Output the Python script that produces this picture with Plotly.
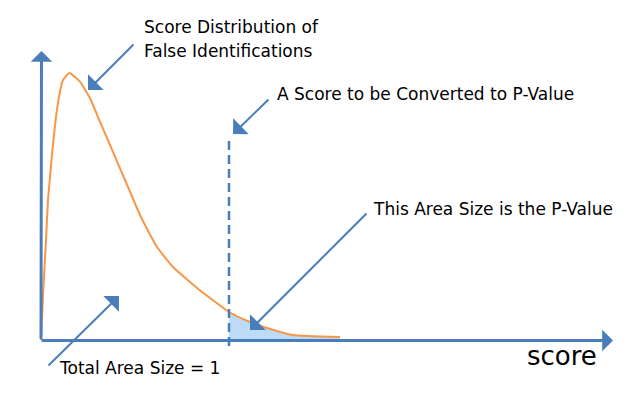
import plotly.graph_objects as go

# ---- data (score units, density units) ----
score = [0, 0.23, 0.5, 0.7, 0.9, 1.17, 1.5, 1.85, 2.2, 2.85, 3.9, 4.9, 5.9, 6.9,
         7.9, 8.9, 9.9, 10.4, 11.6, 13.2, 15.6, 18.8, 20.9, 22.6, 25.2, 29.9]
density = [0, 5.0, 10.0, 14.0, 16.3, 19.3, 22.3, 24.6, 26.0, 26.7, 25.83, 24.17, 21.83, 19.5,
           17.17, 14.83, 12.5, 11.5, 9.3, 7.3, 5.2, 2.8, 1.8, 1.2, 0.5, 0.3]
threshold_score = 18.8
labels = {
    "dist1": "Score Distribution of",
    "dist2": "False Identifications",
    "score_pt": "A Score to be Converted to P-Value",
    "pvalue": "This Area Size is the P-Value",
    "total": "Total Area Size = 1",
    "axis": "score",
}

W, H = 643, 408
X0, Y0, S = 41, 340, 10.0  # origin pixel and pixels per unit


def px(x):
    return (x - X0) / S


def py(y):
    return (Y0 - y) / S


BLUE = "#4A7EBB"
ORANGE = "#F79646"
FILL = "#BDDAF6"
FONT = "DejaVu Sans"

tail_x = [s for s in score if s >= threshold_score]
tail_y = [d for s, d in zip(score, density) if s >= threshold_score]

fig = go.Figure()
fig.add_trace(go.Scatter(x=tail_x, y=tail_y, fill="tozeroy", fillcolor=FILL,
                         mode="none", line=dict(shape="spline", smoothing=0.4),
                         hoverinfo="skip"))
fig.add_trace(go.Scatter(x=score, y=density, mode="lines",
                         line=dict(color=ORANGE, width=2, shape="spline", smoothing=0.4)))
fig.add_trace(go.Scatter(x=[threshold_score, threshold_score], y=[py(346), py(137)],
                         mode="lines", line=dict(color=BLUE, width=2.5, dash="9px,5px")))

ann = []
# axes arrows
ann.append(dict(x=px(41.5), y=py(51), ax=0, ay=py(340.5), xref="x", yref="y", axref="x", ayref="y",
                showarrow=True, arrowhead=1, arrowsize=1.2, arrowwidth=3, arrowcolor=BLUE, text=""))
ann.append(dict(x=px(613), y=py(340.5), ax=px(40), ay=py(340.5), xref="x", yref="y", axref="x", ayref="y",
                showarrow=True, arrowhead=1, arrowsize=1.2, arrowwidth=3, arrowcolor=BLUE, text=""))
# callout arrows (tip, tail)
for (tx, ty), (sx, sy) in [((88, 90), (135, 43)), ((233, 134), (270, 98)),
                           ((250, 330), (368, 212)), ((119, 296), (47, 367))]:
    ann.append(dict(x=px(tx), y=py(ty), ax=px(sx), ay=py(sy), xref="x", yref="y", axref="x", ayref="y",
                    showarrow=True, arrowhead=1, arrowsize=1.85, arrowwidth=2, arrowcolor=BLUE, text=""))
# texts
for key, lx, cy, size in [("dist1", 142, 27, 17), ("dist2", 142, 51, 17), ("score_pt", 275, 94, 17),
                          ("pvalue", 371, 209, 17), ("total", 57, 368, 17), ("axis", 525, 356, 26)]:
    ann.append(dict(x=px(lx), y=py(cy), xref="x", yref="y", text=labels[key], showarrow=False,
                    xanchor="left", yanchor="middle", font=dict(family=FONT, size=size, color="black")))

fig.update_layout(
    width=W, height=H, margin=dict(l=0, r=0, t=0, b=0),
    paper_bgcolor="white", plot_bgcolor="white", showlegend=False,
    xaxis=dict(range=[px(0), px(W)], visible=False, fixedrange=True),
    yaxis=dict(range=[py(H), py(0)], visible=False, fixedrange=True),
    annotations=ann,
)
fig.write_html("out.html", config={"displayModeBar": False},
               post_script="document.body.style.margin='0px';")
